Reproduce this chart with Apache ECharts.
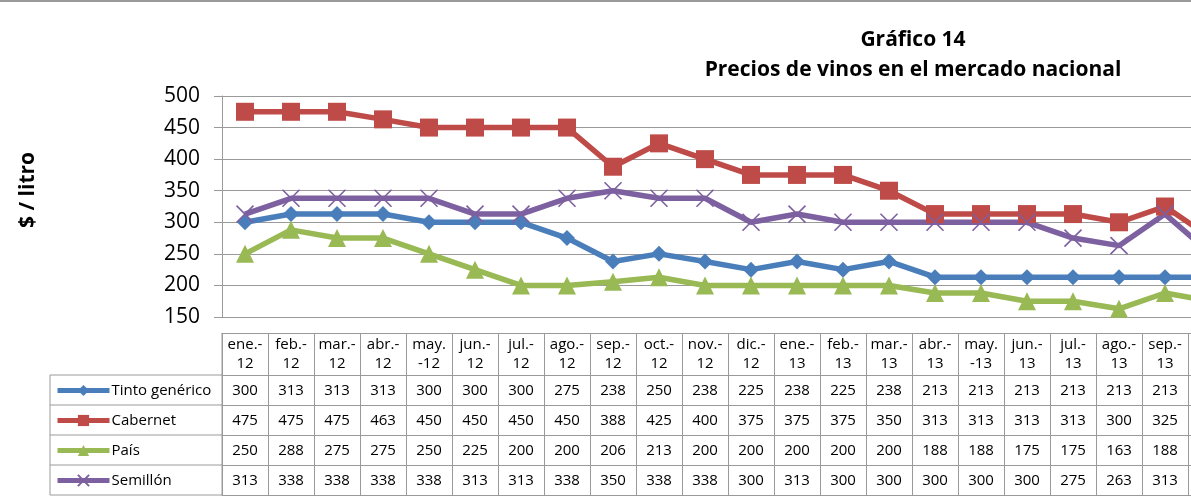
<!DOCTYPE html>
<html>
<head>
<meta charset="utf-8">
<script src="https://cdn.jsdelivr.net/npm/echarts@6/dist/echarts.min.js"></script>
<style>
  html, body { margin: 0; padding: 0; background: #fff; overflow: hidden; }
  #main { width: 1260px; height: 498px; }
</style>
</head>
<body>
<div id="main"></div>
<script>
// meses (el último queda fuera del recorte, como en el original)
const months = [
    "ene.-\n12", "feb.-\n12", "mar.-\n12", "abr.-\n12", "may.\n-12", "jun.-\n12", "jul.-\n12",
    "ago.-\n12", "sep.-\n12", "oct.-\n12", "nov.-\n12", "dic.-\n12", "ene.-\n13", "feb.-\n13",
    "mar.-\n13", "abr.-\n13", "may.\n-13", "jun.-\n13", "jul.-\n13", "ago.-\n13", "sep.-\n13", "oct.-\n13",
];
const tinto = [300, 313, 313, 313, 300, 300, 300, 275, 238, 250, 238, 225, 238, 225, 238, 213, 213, 213, 213, 213, 213, 213];
const cabernet = [475, 475, 475, 463, 450, 450, 450, 450, 388, 425, 400, 375, 375, 375, 350, 313, 313, 313, 313, 300, 325, 275];
const pais = [250, 288, 275, 275, 250, 225, 200, 200, 206, 213, 200, 200, 200, 200, 200, 188, 188, 175, 175, 163, 188, 175];
const semillon = [313, 338, 338, 338, 338, 313, 313, 338, 350, 338, 338, 300, 313, 300, 300, 300, 300, 300, 275, 263, 313, 250];
const yTicks = { min: 150, max: 500, step: 50 };

const FONT = "Open Sans";
const GRAY = "#9a9a9a";

const seriesDefs = [
    { name: "Tinto genérico", data: tinto, color: "#4a7ebb", symbol: "diamond", size: 16 },
    { name: "Cabernet", data: cabernet, color: "#be4b48", symbol: "rect", size: 18 },
    { name: "País", data: pais, color: "#98b954", symbol: "triangle", size: 18 },
    { name: "Semillón", data: semillon, color: "#7d60a0", symbol: "path://M0,0L10,10M10,0L0,10", size: 17 },
];

// filas de la tabla de datos bajo el gráfico
function tableAxis(data, offset, tickLen, header) {
    return {
        type: "category",
        gridIndex: 0,
        position: "bottom",
        offset: offset,
        data: data,
        axisLine: { show: true, lineStyle: { color: GRAY, width: 1 } },
        axisTick: { show: tickLen > 0, interval: 0, length: tickLen, lineStyle: { color: GRAY, width: 1 } },
        axisLabel: {
            show: tickLen > 0,
            interval: 0,
            margin: header ? 2 : 6,
            fontFamily: FONT,
            fontSize: 15,
            lineHeight: 19,
            color: "#000",
        },
        splitLine: { show: false },
    };
}

const chart = echarts.init(document.getElementById("main"));
chart.setOption({
    animation: false,
    title: {
        text: "Gráfico 14\nPrecios de vinos en el mercado nacional",
        left: 908,
        top: 20,
        textAlign: "center",
        textStyle: { fontFamily: FONT, fontSize: 21, fontWeight: "bold", lineHeight: 30, color: "#000" },
    },
    legend: {
        orient: "vertical",
        left: 55,
        top: 383,
        padding: 0,
        itemWidth: 52,
        itemHeight: 14,
        itemGap: 15,
        lineStyle: { width: 5 },
        textStyle: { fontFamily: FONT, fontSize: 15, color: "#000", padding: [0, 0, 0, -3] },
        data: seriesDefs.map((s) => s.name),
    },
    grid: { left: 222, top: 96, right: 26, bottom: 181, containLabel: false },
    xAxis: [
        {
            type: "category",
            data: months,
            axisLine: { show: true, lineStyle: { color: GRAY } },
            axisTick: { show: false },
            axisLabel: { show: false },
        },
        tableAxis(months, 16, 42, true),
        tableAxis(tinto.map(String), 58, 30),
        tableAxis(cabernet.map(String), 88, 30),
        tableAxis(pais.map(String), 118, 30),
        tableAxis(semillon.map(String), 148, 30),
        tableAxis(months, 178, 0),
    ],
    yAxis: {
        type: "value",
        min: yTicks.min,
        max: yTicks.max,
        interval: yTicks.step,
        axisLine: { show: true, lineStyle: { color: GRAY } },
        axisTick: { show: true, length: 8, lineStyle: { color: GRAY } },
        axisLabel: { margin: 22, fontFamily: FONT, fontSize: 21, color: "#000" },
        splitLine: { lineStyle: { color: GRAY, width: 1 } },
    },
    series: seriesDefs.map((s) => ({
        name: s.name,
        type: "line",
        data: s.data,
        xAxisIndex: 0,
        symbol: s.symbol,
        symbolSize: s.size,
        showAllSymbol: true,
        color: s.color,
        lineStyle: { width: 5.5, color: s.color },
        itemStyle: s.symbol.startsWith("path")
            ? { color: s.color, borderColor: s.color, borderWidth: 1.6 }
            : { color: s.color },
        z: 2,
    })),
    graphic: [
        { type: "line", shape: { x1: 0, y1: 1, x2: 1260, y2: 1 }, style: { stroke: GRAY, lineWidth: 2 } },
        {
            type: "text",
            x: 28,
            y: 190,
            rotation: Math.PI / 2,
            style: {
                text: "$ / litro",
                fontFamily: FONT,
                fontSize: 21,
                fontWeight: "bold",
                fill: "#000",
                align: "center",
                verticalAlign: "middle",
            },
        },
        { type: "rect", shape: { x: 50, y: 375, width: 172, height: 120 }, style: { fill: "none", stroke: GRAY, lineWidth: 1 } },
        { type: "line", shape: { x1: 50, y1: 405, x2: 222, y2: 405 }, style: { stroke: GRAY } },
        { type: "line", shape: { x1: 50, y1: 435, x2: 222, y2: 435 }, style: { stroke: GRAY } },
        { type: "line", shape: { x1: 50, y1: 465, x2: 222, y2: 465 }, style: { stroke: GRAY } },
        { type: "line", shape: { x1: 222, y1: 333, x2: 222, y2: 375 }, style: { stroke: GRAY } },
    ],
});
</script>
</body>
</html>
